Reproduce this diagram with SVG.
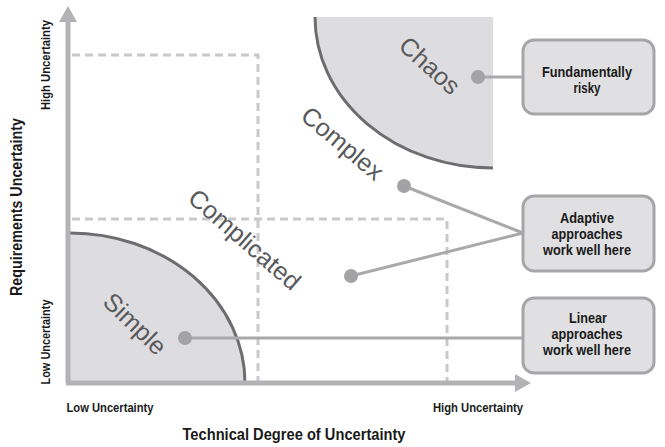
<svg xmlns="http://www.w3.org/2000/svg" width="665" height="447" viewBox="0 0 665 447">
<style>
.axis{stroke:#b3b3b5;stroke-width:5;fill:none}
.dash{stroke:#c9c9cb;stroke-width:3;fill:none;stroke-dasharray:8 5}
.region{fill:#dddddf;stroke:none}
.curve{fill:none;stroke:#6d6d6f;stroke-width:3}
.zone{font-family:"Liberation Sans",Arial,sans-serif;font-size:25px;fill:#59595b;text-anchor:middle}
.dot{fill:#a3a3a5}
.conn{stroke:#a9a9ab;stroke-width:3;fill:none}
.box{fill:#e0e0e2;stroke:#a6a6a8;stroke-width:3}
.bt{font-family:"Liberation Sans",Arial,sans-serif;font-weight:bold;font-size:15.5px;fill:#1a1a1a;text-anchor:middle}
.lab{font-family:"Liberation Sans",Arial,sans-serif;font-weight:bold;font-size:13px;fill:#1a1a1a;text-anchor:middle}
.title{font-family:"Liberation Sans",Arial,sans-serif;font-weight:bold;font-size:16px;fill:#1a1a1a;text-anchor:middle}
</style>
<rect width="665" height="447" fill="#ffffff"/>
<g id="regions">
<path class="region" d="M70,233 A175,150 0 0 1 245,383 L70,383 Z"/>
<path class="curve" d="M70,233 A175,150 0 0 1 245,383"/>
<path class="region" d="M315,17 A178,151 0 0 0 493,168 L493,17 Z"/>
<path class="curve" d="M315,17 A178,151 0 0 0 493,168"/>
</g>
<g id="dashed">
<path class="dash" d="M72,55 H258 V381"/>
<path class="dash" d="M72,219 H447 V381"/>
</g>
<g id="axes">
<line class="axis" x1="68" y1="383" x2="68" y2="18"/>
<polygon points="68,6 59,22 77,22" fill="#b3b3b5"/>
<line class="axis" x1="66" y1="383" x2="518" y2="383"/>
<polygon points="531,383 515,374 515,392" fill="#b3b3b5"/>
</g>
<g id="zone-labels">
<text class="zone" transform="translate(424,72) rotate(42)">Chaos</text>
<text class="zone" transform="translate(337,150) rotate(40)">Complex</text>
<text class="zone" transform="translate(239,246) rotate(41)">Complicated</text>
<text class="zone" transform="translate(129,330) rotate(44)">Simple</text>
</g>
<g id="connectors">
<line class="conn" x1="478" y1="77" x2="523" y2="77"/>
<line class="conn" x1="404" y1="186" x2="523" y2="233"/>
<line class="conn" x1="351" y1="276" x2="523" y2="233"/>
<line class="conn" x1="185" y1="338" x2="523" y2="338"/>
</g>
<g id="dots">
<circle class="dot" cx="478" cy="77" r="7"/>
<circle class="dot" cx="404" cy="186" r="7"/>
<circle class="dot" cx="351" cy="276" r="7"/>
<circle class="dot" cx="185" cy="338" r="7"/>
</g>
<g id="box-risky">
<rect class="box" x="523" y="40" width="131" height="74" rx="11"/>
<text class="bt" x="587" y="77" textLength="90" lengthAdjust="spacingAndGlyphs">Fundamentally</text>
<text class="bt" x="587" y="93" textLength="27" lengthAdjust="spacingAndGlyphs">risky</text>
</g>
<g id="box-adaptive">
<rect class="box" x="523" y="196" width="131" height="75" rx="11"/>
<text class="bt" x="587" y="223" textLength="54" lengthAdjust="spacingAndGlyphs">Adaptive</text>
<text class="bt" x="587" y="239" textLength="71" lengthAdjust="spacingAndGlyphs">approaches</text>
<text class="bt" x="587" y="255" textLength="88" lengthAdjust="spacingAndGlyphs">work well here</text>
</g>
<g id="box-linear">
<rect class="box" x="523" y="298" width="131" height="75" rx="11"/>
<text class="bt" x="588" y="323" textLength="38" lengthAdjust="spacingAndGlyphs">Linear</text>
<text class="bt" x="587" y="339" textLength="71" lengthAdjust="spacingAndGlyphs">approaches</text>
<text class="bt" x="587" y="355" textLength="88" lengthAdjust="spacingAndGlyphs">work well here</text>
</g>
<g id="axis-labels">
<text class="lab" transform="translate(50,65) rotate(-90)" textLength="90" lengthAdjust="spacingAndGlyphs">High Uncertainty</text>
<text class="lab" transform="translate(50,342) rotate(-90)" textLength="85" lengthAdjust="spacingAndGlyphs">Low Uncertainty</text>
<text class="title" transform="translate(22,207) rotate(-90)" textLength="178" lengthAdjust="spacingAndGlyphs">Requirements Uncertainty</text>
<text class="lab" x="110" y="412" textLength="87" lengthAdjust="spacingAndGlyphs">Low Uncertainty</text>
<text class="lab" x="478" y="412" textLength="90" lengthAdjust="spacingAndGlyphs">High Uncertainty</text>
<text class="title" x="294" y="440" textLength="223" lengthAdjust="spacingAndGlyphs">Technical Degree of Uncertainty</text>
</g>
</svg>
